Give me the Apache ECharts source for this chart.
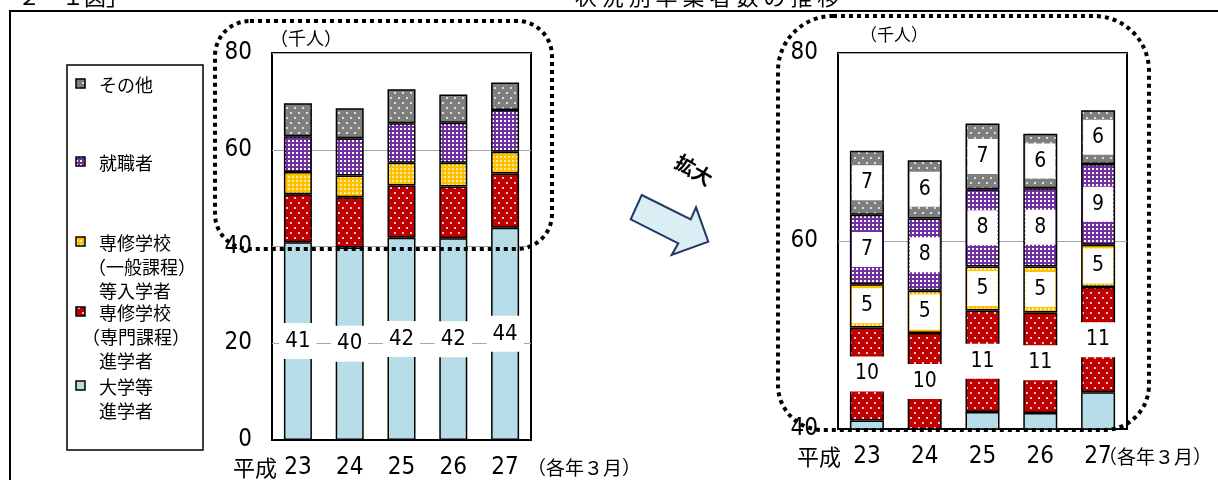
<!DOCTYPE html>
<html><head><meta charset="utf-8">
<script src="https://cdn.jsdelivr.net/npm/echarts@6/dist/echarts.min.js"></script>
<style>html,body{margin:0;padding:0;background:#fff}#c{width:1218px;height:480px}</style>
</head><body><div id="c"></div>
<script>
// ---- data ----
const years = ['23', '24', '25', '26', '27'];
const seriesNames = ['大学等進学者', '専修学校（専門課程）進学者', '専修学校（一般課程）等入学者', '就職者', 'その他'];
const univ     = [40.9, 39.8, 41.8, 41.7, 43.9];
const senmon   = [9.9, 10.4, 10.8, 10.7, 11.2];
const ippan    = [4.6, 4.5, 4.7, 4.9, 4.5];
const shushoku = [7.4, 7.7, 8.2, 8.3, 8.6];
const sonota   = [6.8, 6.2, 7.0, 5.8, 5.7];
const yTicksLeft = [0, 20, 40, 60, 80];
const yTicksRight = [40, 60, 80];
const legendLines = [
  ['その他'],
  ['就職者'],
  ['専修学校', '（一般課程）', '等入学者'],
  ['専修学校', '（専門課程）', '進学者'],
  ['大学等', '進学者']
];
const unitLabel = '（千人）';
const eraLabel = '平成';
const monthLabel = '（各年３月）';
const zoomLabel = '拡大';
const titleText = '状 況 別 卒 業 者 数 の 推 移';
const figText = '２－２－１図」';

// ---- styles ----
const NUM = "'Liberation Sans Narrow','Arial Narrow','DejaVu Sans Condensed',sans-serif";
const JP = "'Noto Sans CJK JP',sans-serif";
function pat(bg, fg, w, h, rects) {
  const c = document.createElement('canvas');
  c.width = w; c.height = h;
  const x = c.getContext('2d');
  x.fillStyle = bg; x.fillRect(0, 0, w, h);
  x.fillStyle = fg;
  rects.forEach(r => x.fillRect(r[0], r[1], r[2], r[3]));
  return { image: c, repeat: 'repeat' };
}
const fills = [
  '#B7DEE8',
  pat('#C00000', '#F2C4C4', 8, 10, [[2, 2, 2, 2], [6, 7, 2, 2]]),
  pat('#FFC000', '#FFEBA8', 4, 4, [[0, 0, 2, 2]]),
  pat('#7030A0', '#FFFFFF', 4, 4, [[0, 0, 2, 2]]),
  pat('#7F7F7F', '#DCDCDC', 8, 10, [[2, 2, 2, 2], [6, 7, 2, 2]])
];
const values = [univ, senmon, ippan, shushoku, sonota];

const grids = [
  { left: 272, top: 53, width: 259, height: 387, show: true, borderColor: '#000', borderWidth: 2 },
  { left: 838, top: 53, width: 289, height: 376, show: true, borderColor: '#000', borderWidth: 2 }
];
const xAxes = [0, 1].map(g => ({
  type: 'category', gridIndex: g, data: years,
  axisLine: { lineStyle: { color: '#000', width: 2 } },
  axisTick: { inside: true, length: 5, lineStyle: { color: '#999' } },
  axisLabel: { color: '#000', fontFamily: NUM, fontSize: 24, margin: 16 }
}));
const yAxes = [
  { min: yTicksLeft[0], max: yTicksLeft[yTicksLeft.length - 1], interval: 20 },
  { min: yTicksRight[0], max: yTicksRight[yTicksRight.length - 1], interval: 20 }
].map((a, g) => Object.assign(a, {
  type: 'value', gridIndex: g,
  axisLine: { show: false }, axisTick: { show: false },
  splitLine: { show: true, lineStyle: { color: '#A6A6A6', width: 1 } },
  axisLabel: { color: '#000', fontFamily: NUM, fontSize: 24, margin: 20 }
}));

const series = [];
[0, 1].forEach(g => {
  values.forEach((vals, i) => {
    series.push({
      type: 'bar', name: seriesNames[i], xAxisIndex: g, yAxisIndex: g, stack: 'S' + g,
      data: vals, barWidth: g ? 34 : 28, clip: true, silent: true,
      itemStyle: { color: fills[i], borderColor: '#000', borderWidth: 1.5 },
      label: {
        show: g === 0 ? i === 0 : i > 0,
        position: 'inside',
        formatter: p => String(Math.round(p.value)),
        color: '#000', backgroundColor: '#fff',
        fontFamily: NUM, fontSize: g ? 21 : 22,
        padding: g ? [7, 9] : [7, 6]
      }
    });
  });
});

// legend (drawn as graphic)
const legendItems = [];
const legendY = [85, 163, 243, 313, 387];
legendLines.forEach((lines, k) => {
  const sIdx = 4 - k;
  legendItems.push({ type: 'rect', shape: { x: 76, y: legendY[k] - 6, width: 9, height: 9 },
    style: { fill: fills[sIdx], stroke: '#000', lineWidth: 1.5 }, z: 10 });
  lines.forEach((t, j) => {
    const paren = t.charAt(0) === '（';
    legendItems.push({ type: 'text', x: paren ? (k === 2 ? 88 : 82) : 99, y: legendY[k] + j * 24,
      style: { text: t, fill: '#000', font: '18px ' + JP, textVerticalAlign: 'middle' }, z: 10 });
  });
});

const graphic = [
  { type: 'rect', shape: { x: 10, y: 11, width: 1230, height: 490 }, style: { fill: null, stroke: '#000', lineWidth: 2 }, z: 1 },
  { type: 'text', x: 128, y: 8, style: { text: figText, fill: '#000', font: '22px ' + JP, textAlign: 'right', textVerticalAlign: 'bottom' } },
  { type: 'text', x: 707, y: 8, style: { text: titleText, fill: '#000', font: '22px ' + JP, textAlign: 'center', textVerticalAlign: 'bottom' } },
  { type: 'rect', shape: { x: 67, y: 65, width: 136, height: 385 }, style: { fill: '#fff', stroke: '#000', lineWidth: 1.5 }, z: 5 },
  ...legendItems,
  { type: 'text', x: 270, y: 38, style: { text: unitLabel, fill: '#000', font: '18px ' + JP, textVerticalAlign: 'middle' }, z: 10 },
  { type: 'text', x: 860, y: 35, style: { text: unitLabel, fill: '#000', font: '17px ' + JP, textVerticalAlign: 'middle' }, z: 10 },
  { type: 'text', x: 233, y: 468, style: { text: eraLabel, fill: '#000', font: '22px ' + JP, textVerticalAlign: 'middle' }, z: 10 },
  { type: 'text', x: 797, y: 457, style: { text: eraLabel, fill: '#000', font: '22px ' + JP, textVerticalAlign: 'middle' }, z: 10 },
  { type: 'text', x: 527, y: 468, style: { text: monthLabel, fill: '#000', font: '19px ' + JP, textVerticalAlign: 'middle' }, z: 10 },
  { type: 'text', x: 1098, y: 457, style: { text: monthLabel, fill: '#000', font: '19px ' + JP, textVerticalAlign: 'middle' }, z: 10 },
  { type: 'polygon', shape: { points: [[641.7, 195], [690.7, 219.3], [696, 207.3], [708.3, 241.7], [671.7, 255], [678.3, 243.3], [630.7, 219.3]] },
    style: { fill: '#DAEEF3', stroke: '#1F3864', lineWidth: 2 }, z: 10 },
  { type: 'text', x: 694, y: 170, rotation: -0.54, style: { text: zoomLabel, fill: '#000', font: 'bold 20px ' + JP, textAlign: 'center', textVerticalAlign: 'middle' }, z: 10 },
  { type: 'rect', shape: { x: 215, y: 21, width: 337, height: 228, r: 35 },
    style: { fill: null, stroke: '#000', lineWidth: 4, lineDash: [4, 4] }, z: 100 },
  { type: 'rect', shape: { x: 778, y: 16, width: 371, height: 414, r: [55, 55, 45, 45] },
    style: { fill: null, stroke: '#000', lineWidth: 4, lineDash: [4, 4] }, z: 100 }
];

const chart = echarts.init(document.getElementById('c'), null, { renderer: 'canvas' });
chart.setOption({
  animation: false,
  backgroundColor: '#fff',
  grid: grids, xAxis: xAxes, yAxis: yAxes, series: series,
  graphic: graphic
});
</script></body></html>
